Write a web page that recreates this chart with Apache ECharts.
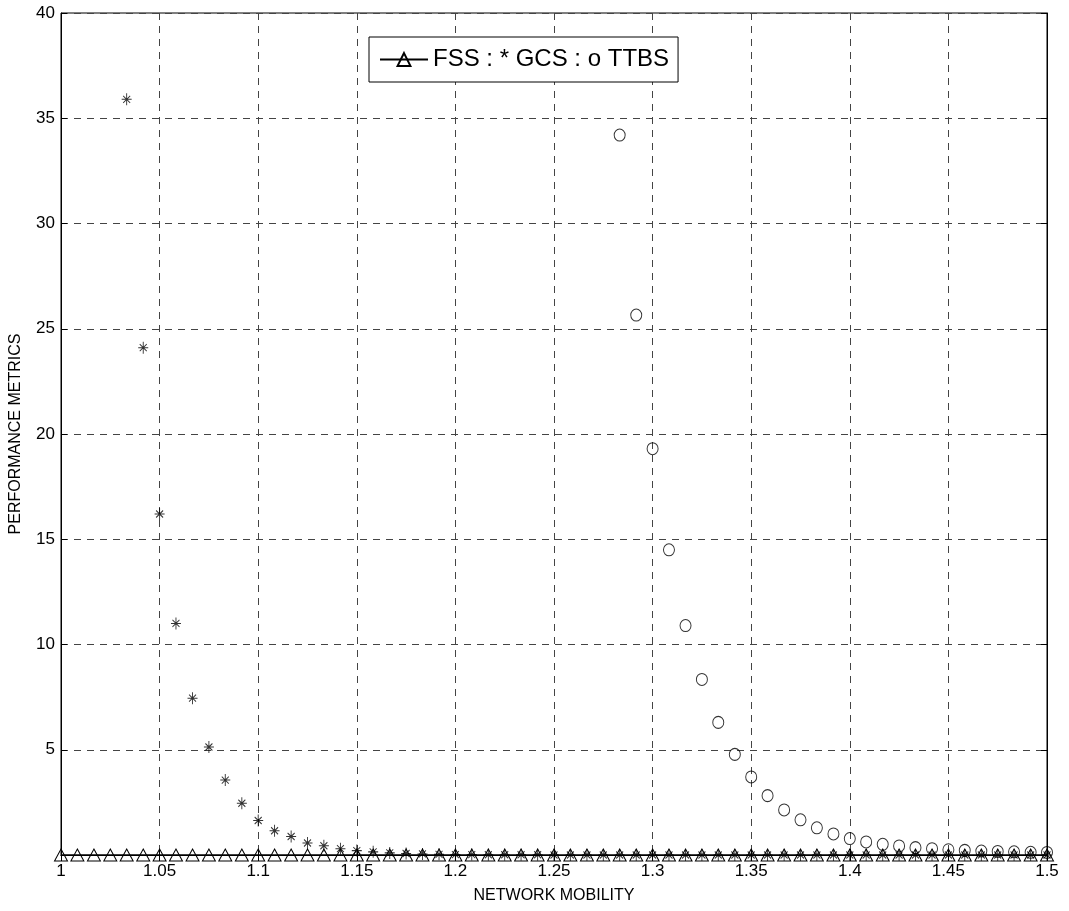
<!DOCTYPE html>
<html>
<head>
<meta charset="utf-8">
<script src="https://cdn.jsdelivr.net/npm/echarts@6/dist/echarts.min.js"></script>
<style>
html,body{margin:0;padding:0;background:#fff;}
#chart{width:1069px;height:911px;}
</style>
</head>
<body>
<div id="chart"></div>
<script>
// x values (network mobility)
var xValues = [1.0000,1.0083,1.0167,1.0250,1.0333,1.0417,1.0500,1.0583,1.0667,1.0750,
  1.0833,1.0917,1.1000,1.1083,1.1167,1.1250,1.1333,1.1417,1.1500,1.1583,
  1.1667,1.1750,1.1833,1.1917,1.2000,1.2083,1.2167,1.2250,1.2333,1.2417,
  1.2500,1.2583,1.2667,1.2750,1.2833,1.2917,1.3000,1.3083,1.3167,1.3250,
  1.3333,1.3417,1.3500,1.3583,1.3667,1.3750,1.3833,1.3917,1.4000,1.4083,
  1.4167,1.4250,1.4333,1.4417,1.4500,1.4583,1.4667,1.4750,1.4833,1.4917,1.5000];
// FSS values (triangles)
var fssValues = [0,0,0,0,0,0,0,0,0,0,0,0,0,0,0,0,0,0,0,0,0,0,0,0,0,0,0,0,0,0,
  0,0,0,0,0,0,0,0,0,0,0,0,0,0,0,0,0,0,0,0,0,0,0,0,0,0,0,0,0,0,0];
// GCS values (asterisks), null = off chart
var gcsValues = [null,null,null,null,35.9,24.1,16.2,11.0,7.45,5.13,
  3.56,2.46,1.64,1.15,0.88,0.57,0.44,0.30,0.21,0.15,
  0.10,0.07,0.05,0.03,0.02,0.02,0.01,0.01,0.01,0.01,
  0,0,0,0,0,0,0,0,0,0,0,0,0,0,0,0,0,0,0,0,0,0,0,0,0,0,0,0,0,0,0];
// TTBS values (circles), null = off chart
var ttbsValues = [null,null,null,null,null,null,null,null,null,null,
  null,null,null,null,null,null,null,null,null,null,
  null,null,null,null,null,null,null,null,null,null,
  null,null,null,null,34.2,25.65,19.3,14.5,10.9,8.34,
  6.3,4.78,3.71,2.82,2.14,1.67,1.29,1.0,0.78,0.62,
  0.51,0.43,0.35,0.30,0.25,0.22,0.19,0.17,0.15,0.13,0.12];
var yTicks = [0,5,10,15,20,25,30,35,40];
var xTicks = [1,1.05,1.1,1.15,1.2,1.25,1.3,1.35,1.4,1.45,1.5];
var legendText = 'FSS : * GCS : o TTBS';

function pairs(vals){
  var out = [];
  for (var i=0;i<xValues.length;i++){ if(vals[i]!==null) out.push([xValues[i], vals[i]]); }
  return out;
}

var FONT = '"Liberation Sans Narrow","Liberation Sans",Arial,sans-serif';
var gridLine = {show:true, lineStyle:{color:'#444', width:1, type:[7,6]}};
var chart = echarts.init(document.getElementById('chart'), null, {renderer:'canvas'});
chart.setOption({
  animation:false,
  backgroundColor:'#fff',
  grid:{left:61, right:22, top:13, bottom:56, show:true, borderColor:'#000', borderWidth:1, containLabel:false},
  legend:{
    data:['FSS'],
    left:369, top:37,
    formatter:function(){return legendText;},
    backgroundColor:'#fff', borderColor:'#000', borderWidth:1,
    padding:[8,9,8,10], itemWidth:48, itemHeight:16, itemGap:5,
    textStyle:{fontFamily:FONT, fontSize:24, color:'#000', lineHeight:29}
  },
  xAxis:[{
    type:'value', min:1, max:1.5, interval:0.05,
    name:'NETWORK MOBILITY', nameLocation:'middle', nameGap:33,
    nameTextStyle:{fontFamily:FONT, fontSize:16, color:'#000'},
    axisLine:{show:true, lineStyle:{color:'#000'}},
    axisTick:{show:true, inside:true, length:6, lineStyle:{color:'#000'}},
    axisLabel:{fontFamily:FONT, fontSize:17, color:'#000', margin:8},
    splitLine:gridLine
  },{
    type:'value', min:1, max:1.5, interval:0.05, position:'top',
    axisLine:{show:true, lineStyle:{color:'#000'}},
    axisTick:{show:true, inside:true, length:6, lineStyle:{color:'#000'}},
    axisLabel:{show:false}, splitLine:{show:false}
  }],
  yAxis:[{
    type:'value', min:0, max:40, interval:5,
    name:'PERFORMANCE METRICS', nameLocation:'middle', nameGap:37,
    nameTextStyle:{fontFamily:'"Liberation Sans",Arial,sans-serif', fontSize:16, color:'#000'},
    axisLine:{show:true, lineStyle:{color:'#000'}},
    axisTick:{show:true, inside:true, length:6, lineStyle:{color:'#000'}},
    axisLabel:{fontFamily:FONT, fontSize:17, color:'#000', margin:6,
      formatter:function(v){return v===0?'':String(v);}},
    splitLine:gridLine
  },{
    type:'value', min:0, max:40, interval:5, position:'right',
    axisLine:{show:true, lineStyle:{color:'#000'}},
    axisTick:{show:true, inside:true, length:6, lineStyle:{color:'#000'}},
    axisLabel:{show:false}, splitLine:{show:false}
  }],
  series:[{
    name:'FSS', type:'line', data:pairs(fssValues),
    symbol:'triangle', symbolSize:[13,12], showAllSymbol:true, clip:false,
    lineStyle:{color:'#000', width:1},
    itemStyle:{color:'rgba(255,255,255,0)', borderColor:'#000', borderWidth:1},
    z:3
  },{
    name:'GCS', type:'scatter', data:pairs(gcsValues),
    symbol:'path://M5,0L5,12M0,6L10,6M1.5,2.5L8.5,9.5M1.5,9.5L8.5,2.5',
    symbolSize:[10,12], clip:false,
    itemStyle:{color:'rgba(0,0,0,0)', borderColor:'#000', borderWidth:1},
    z:4
  },{
    name:'TTBS', type:'scatter', data:pairs(ttbsValues),
    symbol:'circle', symbolSize:[11,12], clip:false,
    itemStyle:{color:'rgba(255,255,255,0)', borderColor:'#000', borderWidth:1},
    z:4
  }]
});
</script>
</body>
</html>
